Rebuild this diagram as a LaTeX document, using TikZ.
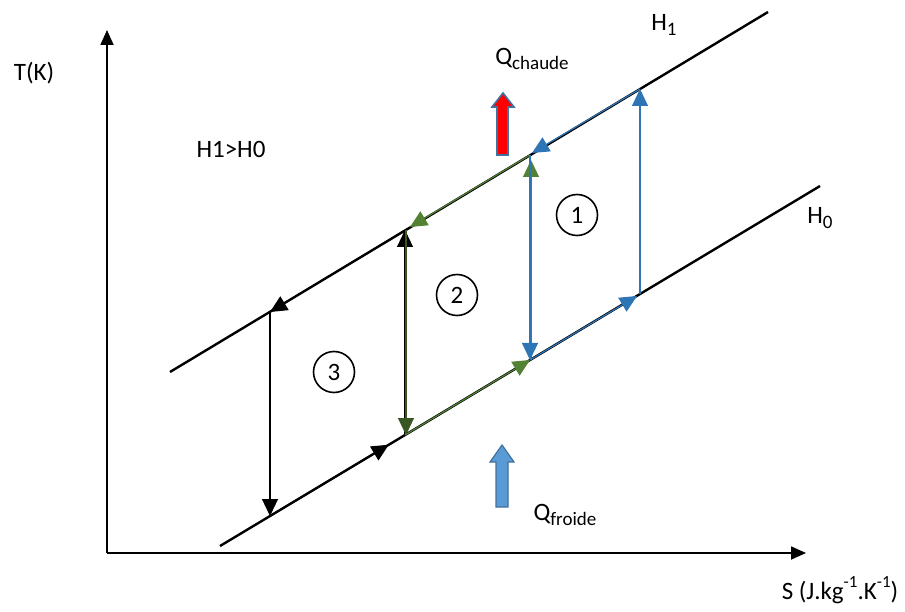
\documentclass[tikz,border=0pt]{standalone}
\usepackage{fontspec}
\setmainfont{Carlito}
\usetikzlibrary{arrows.meta,calc}
\definecolor{cblue}{HTML}{2E75B6}
\definecolor{cgreen}{HTML}{548235}
\definecolor{cdkgreen}{HTML}{385723}
\definecolor{cborder}{HTML}{41719C}
\definecolor{cfill}{HTML}{5B9BD5}
\newcommand\mysub[1]{\raisebox{-0.45ex}{\fontsize{19}{20}\selectfont #1}}
\newcommand\mysup[1]{\raisebox{1.0ex}{\fontsize{17}{18}\selectfont #1}}
\tikzset{
  tip/.style={-{Triangle[length=17pt,width=16pt]}},
  axis/.style={line width=1.8pt,-{Triangle[length=15pt,width=13pt]}},
  isoline/.style={line width=2.4pt},
  seg/.style={line width=1.2pt,tip},
  lbl/.style={font=\fontsize{25}{28}\selectfont,inner sep=0pt},
  num/.style={circle,draw,line width=1.6pt,minimum size=41pt,inner sep=0pt,font=\fontsize{25}{26}\selectfont},
  blockarrow/.style={draw=cborder,line width=1.6pt}
}
\begin{document}
\begin{tikzpicture}[x=1pt,y=-1pt]
\path[use as bounding box] (0,0) rectangle (905,612);
% axes
\coordinate (O) at (107,553);
\coordinate (Yt) at (107,30);
\coordinate (Xt) at (806,553);
\draw[axis] (O) -- (Yt);
\draw[axis] (O) -- (Xt);
\node[lbl] (tk) at (34,73) {T(K)};
\node[lbl] (sl) at (840,590) {S (J.kg\mysup{-1}.K\mysup{-1})};
% iso lines
\coordinate (H1s) at (170,372);
\coordinate (H1e) at (768,12);
\coordinate (H0s) at (220,546);
\coordinate (H0e) at (820,186);
\draw[isoline] (H1s) -- (H1e);
\draw[isoline] (H0s) -- (H0e);
\node[lbl] (h1) at (664,25) {H\mysub{1}};
\node[lbl] (h0) at (820,218) {H\mysub{0}};
\node[lbl] (hh) at (231,149) {H1>H0};
% cycle points
\coordinate (A1) at (530,155);
\coordinate (A0) at (530,360);
\coordinate (B1) at (640,89);
\coordinate (B0) at (640,294);
\coordinate (C1) at (405,230);
\coordinate (C0) at (405,435);
\coordinate (D1) at (270,312);
\coordinate (D0) at (270,516);
% cycle 3 (black)
\draw[seg,black] (D1) -- (D0);
\draw[seg,black,line width=1.6pt] (D0) -- ($(D0)!0.88!(C0)$);
\draw[seg,black] (C0) -- (C1);
\draw[seg,black] (C1) -- (D1);
% cycle 2 (green)
\draw[seg,cdkgreen] ([xshift=1pt]C1) -- ([xshift=1pt]C0);
\draw[seg,cgreen] (C0) -- (A0);
\draw[seg,cgreen] ([xshift=1pt]A0) -- ($(A1)+(1,5)$);
\draw[seg,cgreen] (A1) -- ($(C1)+(5,-3)$);
% cycle 1 (blue)
\draw[seg,cblue] (A1) -- (A0);
\draw[seg,cblue] (A0) -- ($(B0)+(-3,2)$);
\draw[seg,cblue] (B0) -- (B1);
\draw[seg,cblue] (B1) -- ($(A1)+(2,-2)$);
% numbers
\node[num] (n1) at (577,215) {1};
\node[num] (n2) at (457,295) {2};
\node[num] (n3) at (334,372) {3};
% heat arrows
\draw[blockarrow,fill=red] (497,155) -- (497,107) -- (492,107) -- (503,93) -- (514,107) -- (508,107) -- (508,155) -- cycle;
\draw[blockarrow,line width=1.2pt,fill=cfill] (496,507) -- (496,462) -- (490,462) -- (502,445) -- (514,462) -- (508,462) -- (508,507) -- cycle;
\node[lbl] (qc) at (532,59) {Q\mysub{chaude}};
\node[lbl] (qf) at (565,515) {Q\mysub{froide}};
\end{tikzpicture}
\end{document}
